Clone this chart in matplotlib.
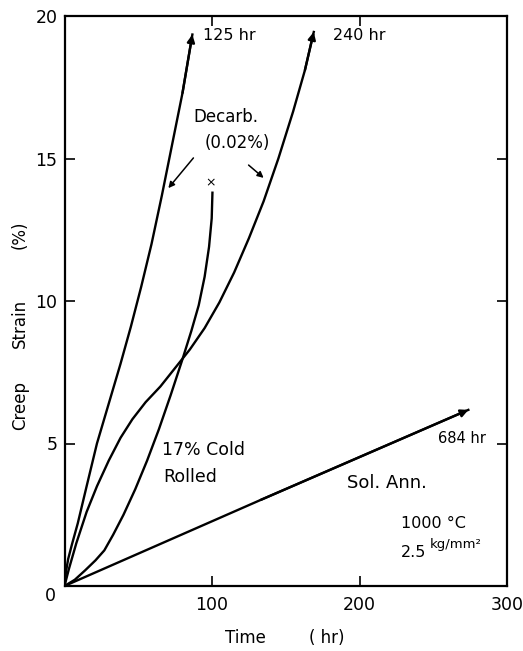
import matplotlib
matplotlib.use("Agg")
import matplotlib.pyplot as plt

# ---- data ----
t_125 = [0, 1, 2.5, 5, 9, 15, 22, 30, 38, 45, 52, 59, 66, 73, 80, 86.7]
e_125 = [0, 0.5, 0.95, 1.45, 2.2, 3.5, 5.0, 6.4, 7.8, 9.1, 10.5, 12.0, 13.7, 15.5, 17.3, 19.35]

t_240 = [0, 3, 8, 15, 22, 30, 38, 46, 55, 65, 75, 85, 95, 105, 115, 125, 135, 145, 155, 163, 169]
e_240 = [0, 0.6, 1.5, 2.6, 3.5, 4.4, 5.2, 5.85, 6.45, 7.0, 7.65, 8.3, 9.05, 9.95, 11.0, 12.2,
         13.5, 15.0, 16.65, 18.1, 19.44]

t_cold = [0, 7, 14, 21, 27, 33, 40, 48, 56, 64, 72, 80, 86, 91, 95, 98, 99.8, 100.3]
e_cold = [0, 0.22, 0.55, 0.9, 1.25, 1.8, 2.5, 3.4, 4.4, 5.5, 6.7, 7.96, 8.95, 9.85, 10.85,
          11.9, 12.9, 13.8]
t_cold_x, e_cold_x = 99, 14.15   # rupture mark

t_sol = [0, 133, 273.8]
e_sol = [0, 3.02, 6.18]

x_ticks = [100, 200, 300]
y_ticks = [5, 10, 15, 20]

W, H = 523, 651
fig = plt.figure(figsize=(W / 100, H / 100), dpi=100)
ax = fig.add_axes([64.5 / W, 1 - 586 / H, (507 - 64.5) / W, (586 - 16) / H])
ax.set_xlim(0, 300)
ax.set_ylim(0, 20)

lw = 1.7
for t, e in [(t_125, e_125), (t_240, e_240), (t_sol, e_sol)]:
    ax.plot(t, e, color="black", lw=lw, solid_joinstyle="round")
    ax.annotate("", xy=(t[-1], e[-1]), xytext=(t[-2], e[-2]),
                arrowprops=dict(arrowstyle="-|>", color="black", lw=lw,
                                mutation_scale=11, shrinkA=0, shrinkB=0))
ax.plot(t_cold, e_cold, color="black", lw=lw, solid_joinstyle="round")
ax.text(t_cold_x, e_cold_x, "×", ha="center", va="center", fontsize=9)

for s in ax.spines.values():
    s.set_linewidth(1.6)

ax.set_xticks(x_ticks)
ax.set_xticklabels([str(v) for v in x_ticks], fontsize=12.5)
ax.set_yticks(y_ticks)
ax.set_yticklabels([str(v) for v in y_ticks], fontsize=12.5)
ax.tick_params(direction="in", length=7, width=1.2, top=True, right=True,
               pad=5)
ax.tick_params(axis="x", pad=7)
fig.text(50 / W, 1 - 596 / H, "0", ha="center", va="center", fontsize=12.5)

fig.text(245 / W, 1 - 638 / H, "Time", ha="center", va="center", fontsize=12)
fig.text(327 / W, 1 - 638 / H, "( hr)", ha="center", va="center", fontsize=12)
for word, py in [("Creep", 406), ("Strain", 323), ("(%)", 235)]:
    fig.text(20 / W, 1 - py / H, word, ha="center", va="center",
             rotation=90, fontsize=12)

kw = dict(color="black", va="center")
ax.text(94.2, 19.33, "125 hr", ha="left", fontsize=11.5, **kw)
ax.text(182, 19.3, "240 hr", ha="left", fontsize=11.5, **kw)
ax.text(109.2, 16.46, "Decarb.", ha="center", fontsize=12, **kw)
ax.text(117.3, 15.54, "(0.02%)", ha="center", fontsize=12, **kw)
ax.annotate("", xy=(70.4, 13.96), xytext=(87.4, 15.02),
            arrowprops=dict(arrowstyle="-|>", color="black", lw=1.1,
                            mutation_scale=9, shrinkA=0, shrinkB=0))
ax.annotate("", xy=(135, 14.32), xytext=(124.8, 14.77),
            arrowprops=dict(arrowstyle="-|>", color="black", lw=1.1,
                            mutation_scale=9, shrinkA=0, shrinkB=0))
ax.text(66.3, 4.77, "17% Cold", ha="left", fontsize=12.5, **kw)
ax.text(67, 3.82, "Rolled", ha="left", fontsize=12.5, **kw)
ax.text(253.4, 5.19, "684 hr", ha="left", fontsize=10.5, **kw)
ax.text(191.5, 3.61, "Sol. Ann.", ha="left", fontsize=13, **kw)
ax.text(228.2, 2.21, "1000 °C", ha="left", fontsize=11.5, **kw)
ax.text(228.2, 1.16, "2.5", ha="left", fontsize=11.5, **kw)
ax.text(247.5, 1.45, "kg/mm²", ha="left", fontsize=9.5, **kw)

fig.savefig("out.png", dpi=100)
